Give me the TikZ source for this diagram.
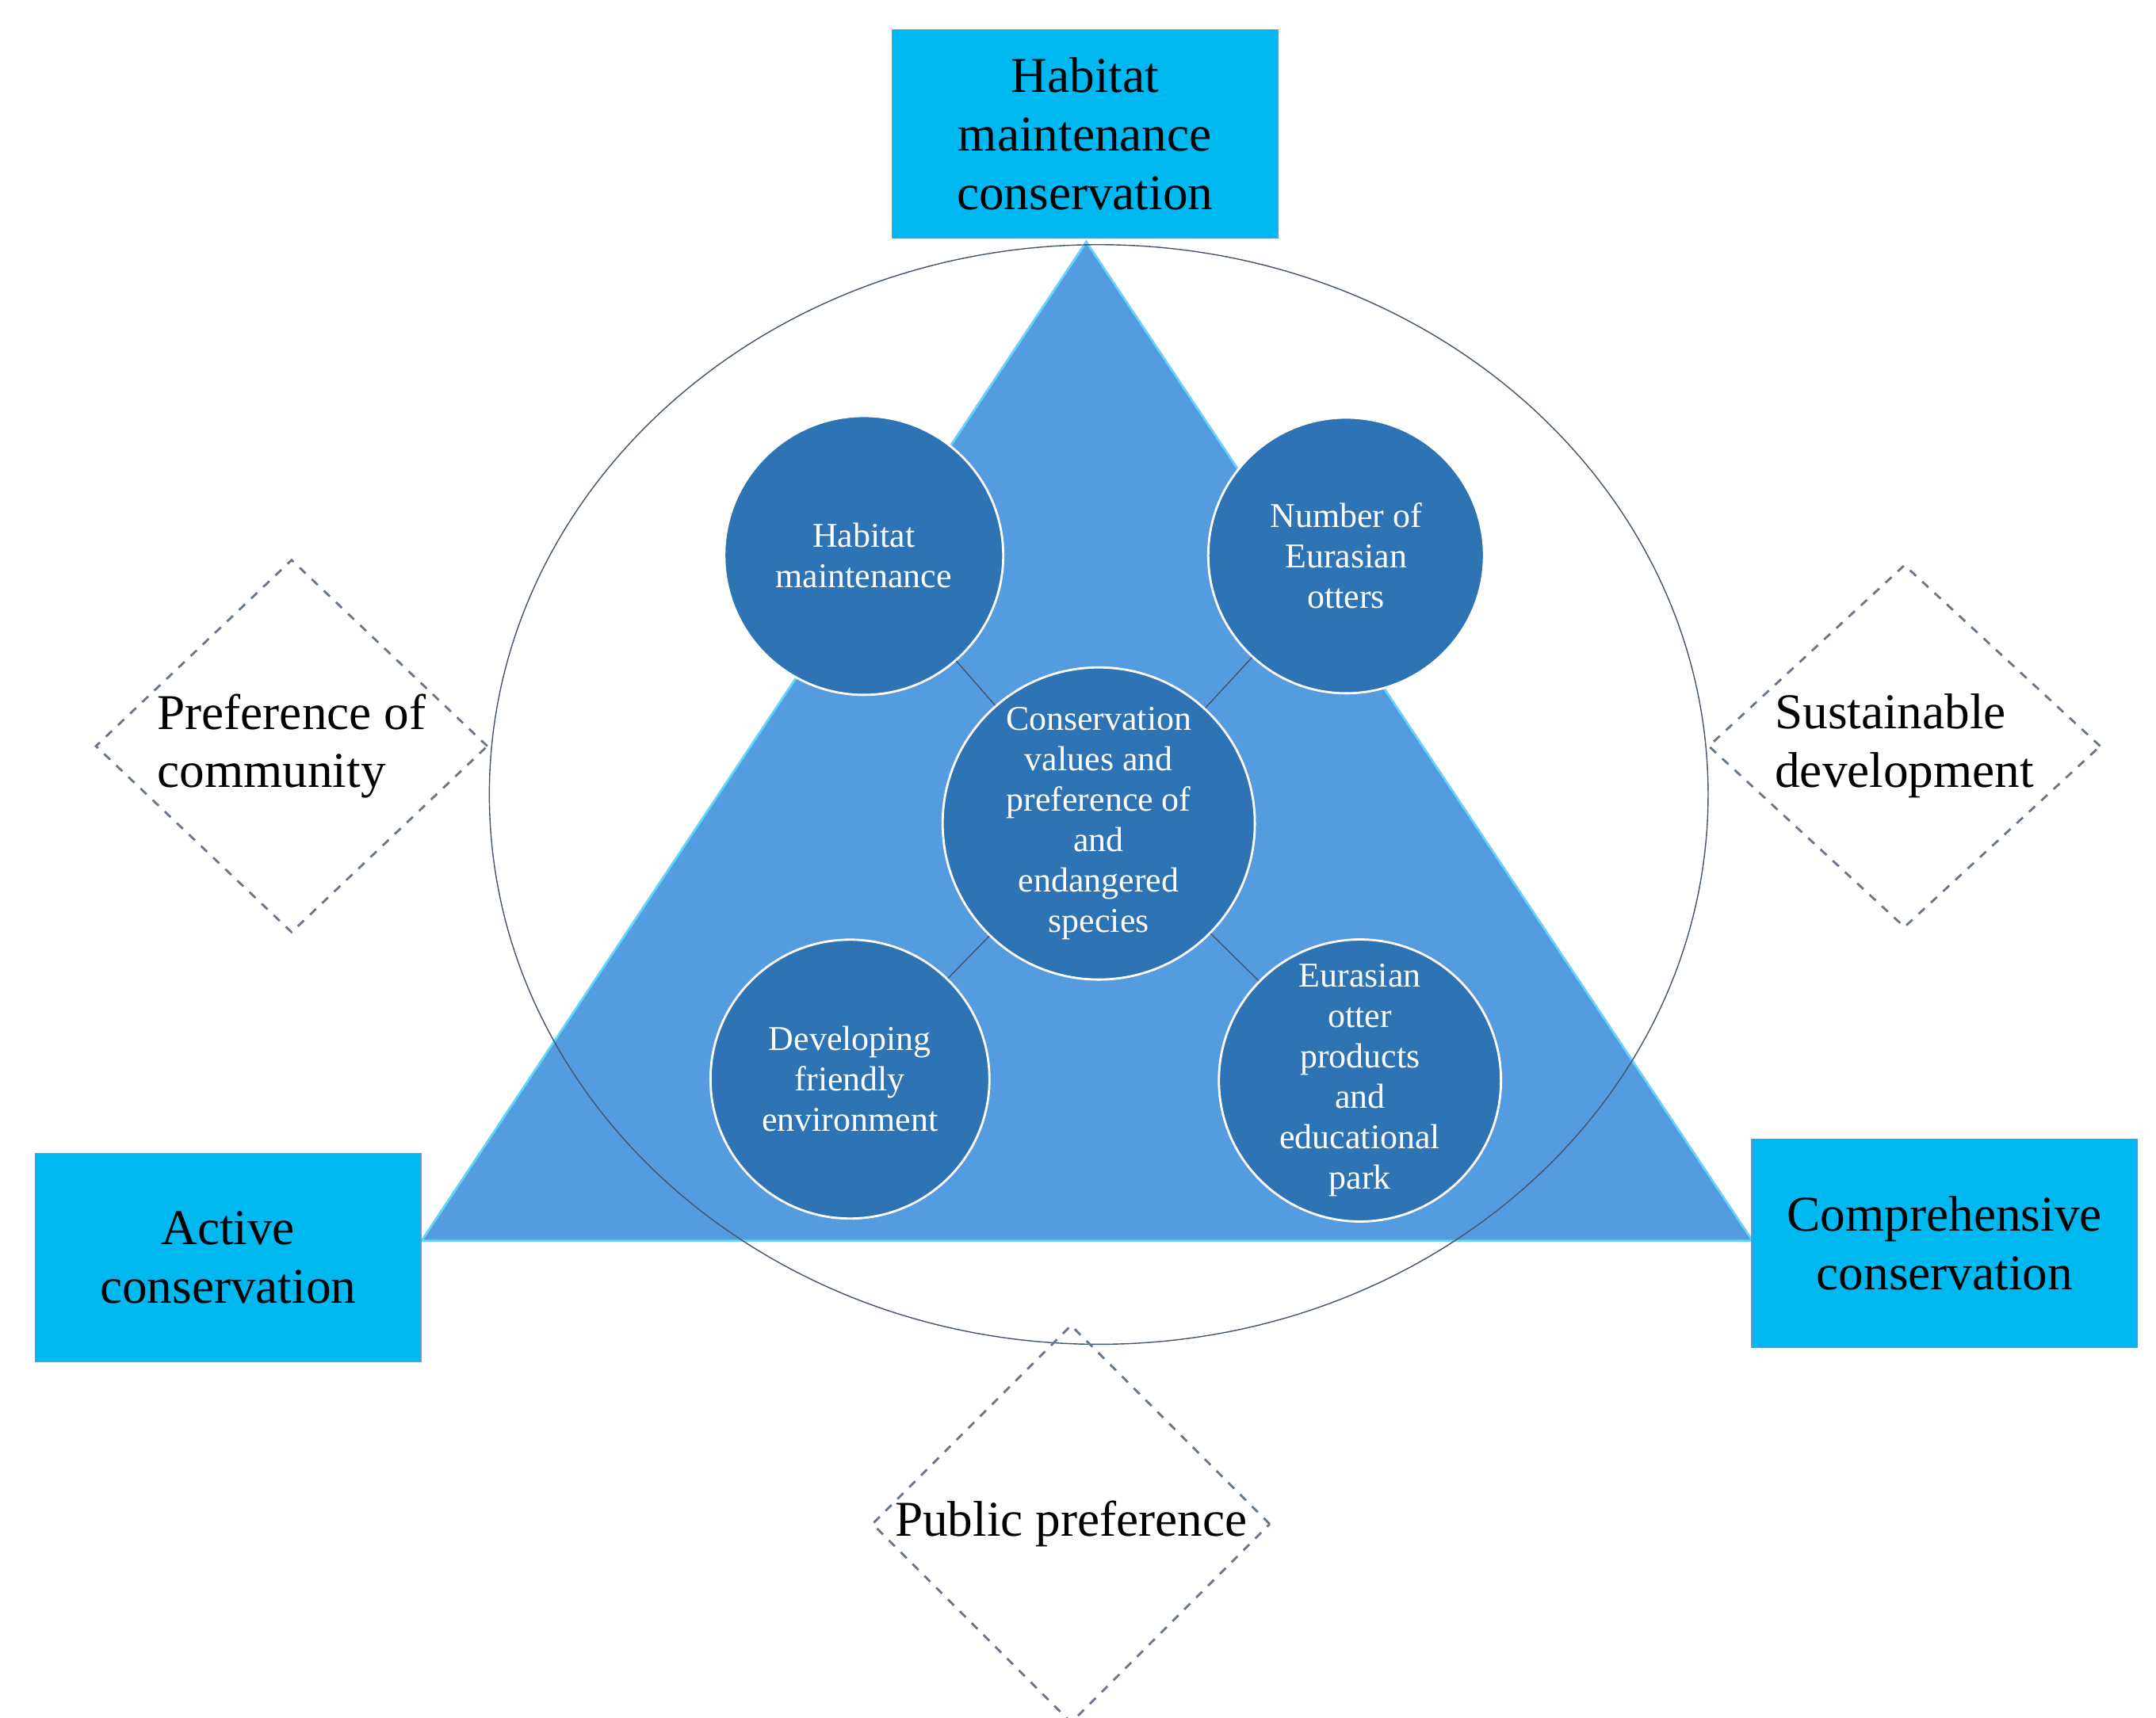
\documentclass[tikz,border=0pt]{standalone}
\usepackage{fontspec}
\setmainfont{Liberation Serif}
\usetikzlibrary{positioning,shapes.geometric}

\definecolor{boxcyan}{HTML}{00B8F0}
\definecolor{tri}{HTML}{559BDF}
\definecolor{ball}{HTML}{2E74B5}
\definecolor{rim}{HTML}{44546A}

\tikzset{
  topic/.style={draw=tri, fill=boxcyan, minimum width=4.87cm, minimum height=2.63cm,
    align=center, font=\fontsize{18}{21}\selectfont},
  ball/.style={circle, draw=white, thick, fill=ball, text=white, align=center,
    inner sep=0pt, font=\fontsize{12.5}{14.5}\selectfont},
  factor/.style={diamond, draw=rim!80, dashed, thick, minimum width=4.95cm,
    minimum height=4.36cm, inner sep=0pt, align=left, font=\fontsize{18}{21}\selectfont},
}

\begin{document}
\begin{tikzpicture}[x=0.01744cm, y=-0.01744cm]
\useasboundingbox (0,0) rectangle (1560,1243);

\coordinate (ta) at (786,175);
\coordinate (tb) at (305,898);
\coordinate (tc) at (1268,898);
\fill[tri] (ta) -- (tb) -- (tc) -- cycle;
\draw[boxcyan!60, thick] (ta) -- (tb) -- (tc) -- cycle;

\node[draw=rim, ellipse, minimum width=15.38cm, minimum height=13.88cm] (ring) at (795,575) {};

\node[ball, minimum size=3.94cm] (core) at (795,596) {Conservation\\values and\\preference of\\and\\endangered\\species};
\node[ball, minimum size=3.52cm] (hab) at (625,402) {Habitat\\maintenance};
\node[ball, minimum size=3.48cm] (num) at (974,402) {Number of\\Eurasian\\otters};
\node[ball, minimum size=3.52cm] (dev) at (615,781) {Developing\\friendly\\environment};
\node[ball, minimum size=3.56cm] (prod) at (984,782) {Eurasian\\otter\\products\\and\\educational\\park};

\draw[rim] (core) -- (hab);
\draw[rim] (core) -- (num);
\draw[rim] (core) -- (dev);
\draw[rim] (core) -- (prod);

\node[topic] (top) at (785,97) {Habitat\\maintenance\\conservation};
\node[topic] (act) at (165,910) {Active\\conservation};
\node[topic] (comp) at (1407,900) {Comprehensive\\conservation};

\node[factor] (comm) at (211,540) {Preference of\\community};
\node[factor] (sust) at (1378,540) {Sustainable\\development};
\node[factor] (pub) at (775,1103) {Public preference};

\end{tikzpicture}
\end{document}
